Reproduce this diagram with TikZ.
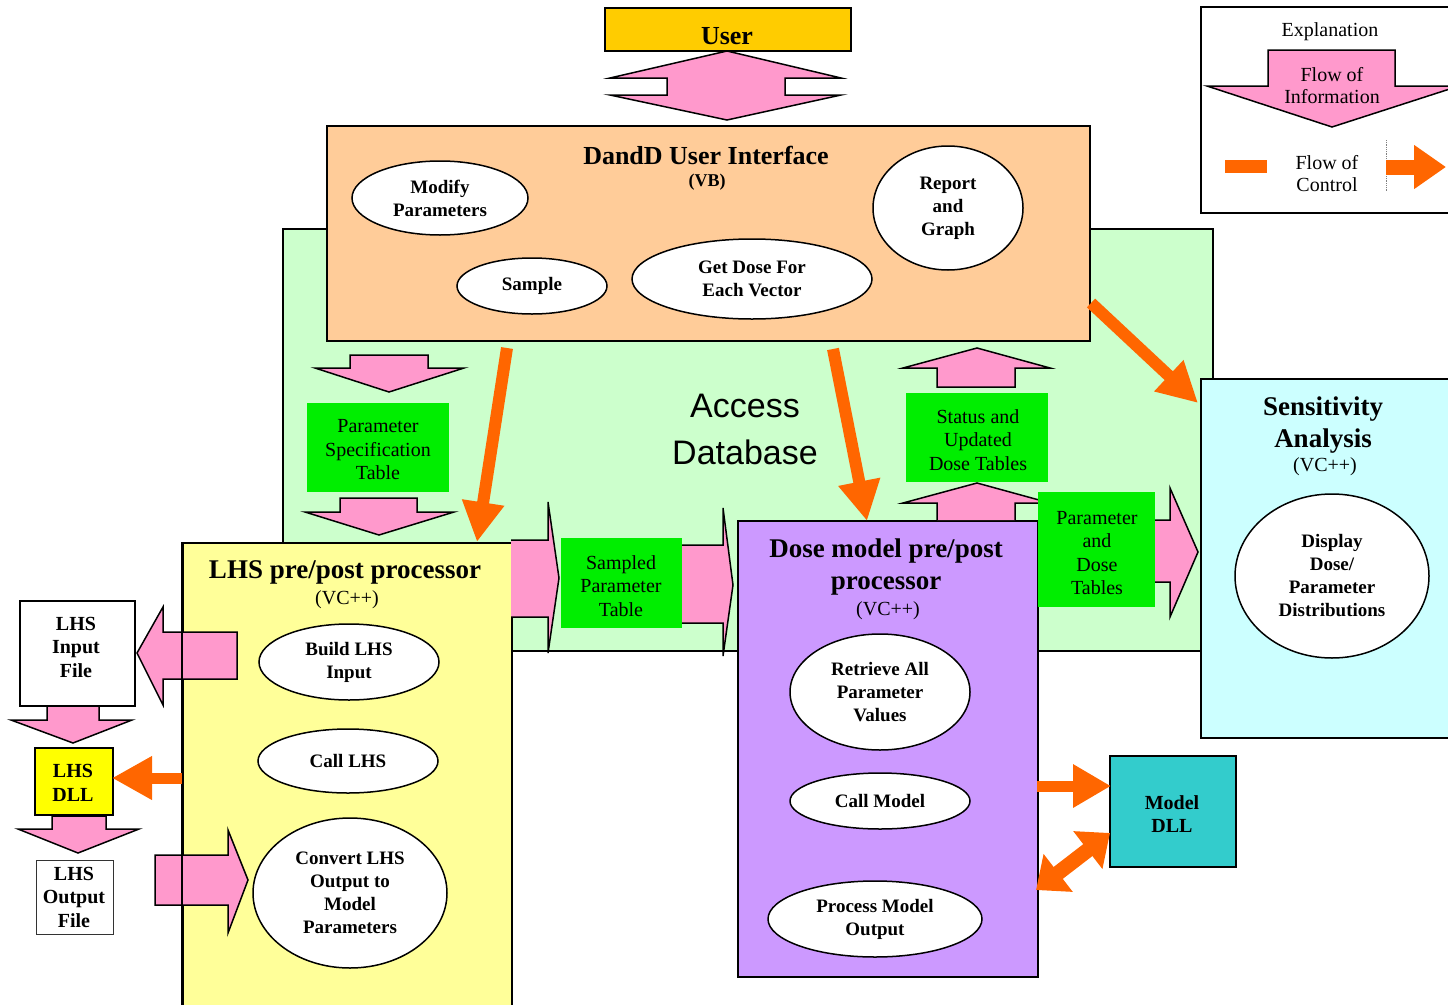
\documentclass[tikz,border=0pt]{standalone}
\usepackage{fontspec}
\setmainfont{Liberation Serif}
\newfontfamily\arialfont{Liberation Sans}
\usetikzlibrary{shapes.geometric,arrows.meta}
\definecolor{pinkc}{HTML}{FF99CC}
\definecolor{orangec}{HTML}{FF6600}
\definecolor{goldc}{HTML}{FFCC00}
\definecolor{peachc}{HTML}{FFCC99}
\definecolor{dbgreen}{HTML}{CCFFCC}
\definecolor{tablegreen}{HTML}{00EE00}
\definecolor{lhsyellow}{HTML}{FFFF99}
\definecolor{dosepurple}{HTML}{CC99FF}
\definecolor{senscyan}{HTML}{CCFFFF}
\definecolor{dllcyan}{HTML}{33CCCC}
\definecolor{dllyellow}{HTML}{FFFF00}
\tikzset{
  box/.style={draw=black, line width=1.5pt, inner sep=0pt, anchor=north west},
  oval/.style={ellipse, draw=black, line width=1.5pt, fill=white, inner sep=0pt, align=center,
    font=\fontsize{19}{23}\selectfont\bfseries},
  tablebox/.style={fill=tablegreen, inner sep=0pt, anchor=north west},
  tabletext/.style={align=center, inner sep=0pt, font=\fontsize{20}{23.5}\selectfont},
  boldtext/.style={align=center, inner sep=0pt, font=\fontsize{20}{23.5}\selectfont\bfseries},
  titletext/.style={align=center, inner sep=0pt, font=\fontsize{27}{31.5}\selectfont\bfseries},
  subtext/.style={inner sep=0pt, font=\fontsize{20}{24}\selectfont},
  pinkarrow/.style={fill=pinkc, draw=black, line width=1.5pt, line join=miter},
  ctrl/.style={draw=orangec, line width=12pt, -{Triangle[length=40pt,width=40pt]}},
}
\begin{document}
\begin{tikzpicture}[x=1pt,y=-1pt]
\useasboundingbox (0,0) rectangle (1448,1004);
% big boxes
\node[box, fill=dbgreen, minimum width=930pt, minimum height=422pt] (db) at (282,228) {};
\node[box, fill=peachc, minimum width=763pt, minimum height=215pt] (ui) at (326,125) {};
\node[box, fill=lhsyellow, minimum width=329pt, minimum height=480pt] (lhs) at (182,542) {};
\node[box, fill=dosepurple, minimum width=300pt, minimum height=456pt] (dose) at (737,520) {};
\node[box, fill=senscyan, minimum width=260pt, minimum height=359pt] (sens) at (1200,378) {};
\node[box, fill=white, minimum width=260pt, minimum height=206pt] (expl) at (1200,6) {};
\node[box, fill=goldc, minimum width=246pt, minimum height=43pt] (user) at (604,7) {};
\node[box, fill=dllcyan, minimum width=126pt, minimum height=111pt] (modeldll) at (1109,755) {};
\node[box, fill=white, minimum width=115pt, minimum height=105pt] (lhsin) at (19,600) {};
\node[box, fill=dllyellow, minimum width=78pt, minimum height=67pt] (lhsdll) at (34,747) {};
\node[box, fill=white, line width=1pt, draw=black!80, minimum width=77pt, minimum height=74pt] (lhsout) at (36,860) {};

% pink arrows entering/leaving the LHS box (under its border)
\draw[pinkarrow] (237,632) -- (163,632) -- (163,607) -- (137,653) -- (163,705) -- (163,679) -- (237,679) -- cycle;
\draw[pinkarrow] (155,855) -- (228,855) -- (228,830) -- (248,880) -- (228,933) -- (228,905) -- (155,905) -- cycle;
\draw[line width=1.5pt] (lhs.north west) -- (lhs.south west);

% titles
\node[inner sep=0pt, font=\fontsize{26}{30}\selectfont\bfseries] (usert) at (727,36) {User};
\node[titletext, font=\fontsize{26}{30}\selectfont\bfseries] (uit) at (706,155) {DandD User Interface};
\node[inner sep=0pt, font=\fontsize{18}{22}\selectfont\bfseries] (uivb) at (707,182) {(VB)};
\node[align=center, inner sep=0pt, font=\arialfont\fontsize{34}{47}\selectfont] (dbt) at (745,429) {Access\\Database};
\node[titletext] (lhst) at (345,572) {LHS pre/post processor};
\node[subtext] (lhsvc) at (347,600) {(VC++)};
\node[titletext] (doset) at (886,567) {Dose model pre/post\\processor};
\node[subtext] (dosevc) at (888,611) {(VC++)};
\node[titletext] (senst) at (1323,425) {Sensitivity\\Analysis};
\node[subtext] (sensvc) at (1325,467) {(VC++)};
\node[subtext] (explt) at (1330,32) {Explanation};
\node[boldtext] (modeldllt) at (1172,814) {Model\\DLL};
\node[boldtext] (lhsint) at (76,647) {LHS\\Input\\File};
\node[boldtext] (lhsdllt) at (73,783) {LHS\\DLL};
\node[boldtext] (lhsoutt) at (74,897) {LHS\\Output\\File};

% ellipses
\node[oval, minimum width=176pt, minimum height=74pt] (modify) at (440,198) {Modify\\Parameters};
\node[oval, minimum width=150pt, minimum height=124pt] (report) at (948,208) {Report\\and\\Graph};
\node[oval, minimum width=150pt, minimum height=56pt] (sample) at (532,286) {Sample};
\node[oval, minimum width=240pt, minimum height=80pt] (getdose) at (752,279) {Get Dose For\\Each Vector};
\node[oval, minimum width=180pt, minimum height=76pt] (build) at (349,662) {Build LHS\\Input};
\node[oval, minimum width=180pt, minimum height=64pt] (calllhs) at (348,761) {Call LHS};
\node[oval, minimum width=194pt, minimum height=150pt] (convert) at (350,893) {Convert LHS\\Output to\\Model\\Parameters};
\node[oval, minimum width=180pt, minimum height=116pt] (retrieve) at (880,692) {Retrieve All\\Parameter\\Values};
\node[oval, minimum width=180pt, minimum height=56pt] (callmodel) at (880,801) {Call Model};
\node[oval, minimum width=214pt, minimum height=76pt] (process) at (875,919) {Process Model\\Output};
\node[oval, minimum width=194pt, minimum height=164pt] (display) at (1332,576) {Display\\Dose/\\Parameter\\Distributions};

% pink information arrows
\draw[pinkarrow] (727,51) -- (841,78) -- (785,78) -- (785,95) -- (841,95) -- (727,120) -- (610,95) -- (667,95) -- (667,78) -- (610,78) -- cycle;
\draw[pinkarrow] (350,355) -- (428,355) -- (428,368) -- (464,368) -- (389,392) -- (315,368) -- (350,368) -- cycle;
\draw[pinkarrow] (340,498) -- (417,498) -- (417,512) -- (454,512) -- (379,535) -- (305,512) -- (340,512) -- cycle;
\draw[pinkarrow] (511,540) -- (548,540) -- (548,502) -- (559,578) -- (548,653) -- (548,617) -- (511,617);
\draw[pinkarrow] (682,545) -- (723,545) -- (723,508) -- (733,585) -- (723,656) -- (723,623) -- (682,623);
\draw[pinkarrow] (937,387) -- (937,368) -- (903,368) -- (977,348) -- (1050,368) -- (1015,368) -- (1015,387) -- cycle;
\draw[pinkarrow] (937,520) -- (937,503) -- (903,503) -- (977,483) -- (1050,503) -- (1015,503) -- (1015,520);
\draw[pinkarrow] (1155,520) -- (1170,520) -- (1170,488) -- (1198,552) -- (1170,617) -- (1170,582) -- (1155,582);
\draw[pinkarrow] (47,706) -- (99,706) -- (99,720) -- (132,720) -- (73,743) -- (11,720) -- (47,720) -- cycle;
\draw[pinkarrow] (52,816) -- (106,816) -- (106,829) -- (139,829) -- (78,853) -- (18,829) -- (52,829) -- cycle;
\draw[pinkarrow] (1268,50) -- (1395,50) -- (1395,86) -- (1459,86) -- (1332,127) -- (1207,86) -- (1268,86) -- cycle;
\node[align=center, inner sep=0pt, font=\fontsize{20}{22}\selectfont] (flowinfo) at (1332,86) {Flow of\\Information};

% green tables
\node[tablebox, minimum width=142pt, minimum height=89pt] (pspec) at (307,403) {};
\node[tabletext] (pspect) at (378,450) {Parameter\\Specification\\Table};
\node[tablebox, minimum width=121pt, minimum height=90pt] (sampled) at (561,538) {};
\node[tabletext] (sampledt) at (621,586) {Sampled\\Parameter\\Table};
\node[tablebox, minimum width=142pt, minimum height=89pt] (status) at (906,393) {};
\node[tabletext] (statust) at (978,440) {Status and\\Updated\\Dose Tables};
\node[tablebox, minimum width=117pt, minimum height=115pt] (pdose) at (1038,492) {};
\node[tabletext] (pdoset) at (1097,553) {Parameter\\and\\Dose\\Tables};

% orange control arrows
\coordinate (c1s) at (507,348);
\coordinate (c1e) at (477,542);
\coordinate (c2s) at (833,349);
\coordinate (c2e) at (867,521);
\coordinate (c3s) at (1091,303);
\coordinate (c3e) at (1198,403);
\coordinate (c4s) at (1037,786);
\coordinate (c4e) at (1111,786);
\coordinate (c5s) at (182,778);
\coordinate (c5e) at (112,778);
\coordinate (c6s) at (1036,890);
\coordinate (c6e) at (1110,833);
\draw[ctrl] (c1s) -- (c1e);
\draw[ctrl] (c2s) -- (c2e);
\draw[ctrl] (c3s) -- (c3e);
\draw[ctrl, line width=11pt, -{Triangle[length=38pt,width=41pt]}] (c4s) -- (c4e);
\draw[ctrl, line width=11pt, -{Triangle[length=40pt,width=41pt]}] (c5s) -- (c5e);
\draw[draw=orangec, line width=15pt, {Triangle[length=28pt,width=46pt]}-{Triangle[length=28pt,width=46pt]}] (c6s) -- (c6e);

% explanation of control
\coordinate (bar1) at (1225,160);
\coordinate (bar2) at (1267,173);
\fill[orangec] (bar1) rectangle (bar2);
\node[align=center, inner sep=0pt, font=\fontsize{20}{22}\selectfont] (flowctrl) at (1327,174) {Flow of\\Control};
\coordinate (dot1) at (1386,140);
\coordinate (dot2) at (1386,192);
\draw[black!50, line width=0.8pt, densely dotted] (dot1) -- (dot2);
\coordinate (ea1) at (1386,167);
\coordinate (ea2) at (1446,167);
\draw[draw=orangec, line width=15pt, -{Triangle[length=32pt,width=42pt]}] (ea1) -- (ea2);
\end{tikzpicture}
\end{document}
